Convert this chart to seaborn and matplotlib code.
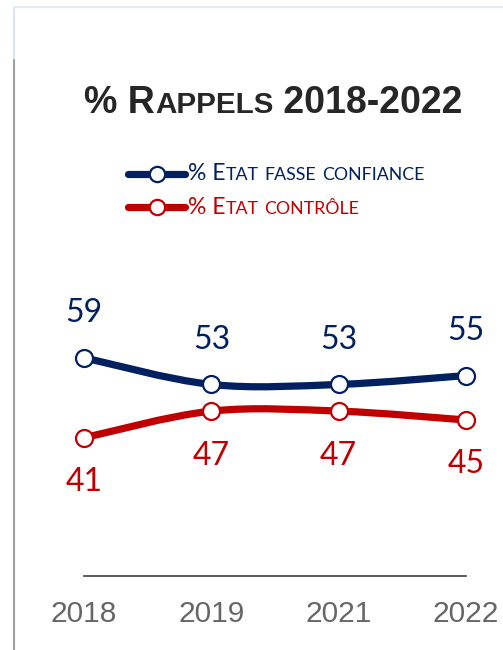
import numpy as np
import pandas as pd
import seaborn as sns
import matplotlib.pyplot as plt
from matplotlib.path import Path
from matplotlib.patches import PathPatch
from matplotlib.lines import Line2D
from matplotlib.offsetbox import TextArea, HPacker, AnchoredOffsetbox

# données
years = ["2018", "2019", "2021", "2022"]
fausse_confiance = [59, 53, 53, 55]
controle = [41, 47, 47, 45]
series_names = ["% Etat fasse confiance", "% Etat contrôle"]
colors = ["#002060", "#C00000"]

W, H = 503, 650
sns.set_theme(style="white")
plt.rcParams["font.family"] = ["Lato", "DejaVu Sans"]

fig = plt.figure(figsize=(W / 100, H / 100), dpi=100)


def px(x, y):
    # pixels (depuis le haut gauche) -> coordonnées figure
    return x / W, 1 - y / H


# axes : 2018 à x=84, 2022 à x=466, ligne de base à y=576
x0, x1 = 84, 466
ax = fig.add_axes([x0 / W, 1 - 576 / H, (x1 - x0) / W, (576 - 300) / H])
ax.set_xlim(0, len(years) - 1)
ax.set_ylim(9.9, 72.0)

df = pd.DataFrame({
    "x": list(range(len(years))) * 2,
    "valeur": fausse_confiance + controle,
    "serie": [series_names[0]] * len(years) + [series_names[1]] * len(years),
})


def smooth_path(xs, ys):
    # courbe lissée façon Excel (Bézier, tangentes de Catmull-Rom)
    pts = np.column_stack([xs, ys]).astype(float)
    n = len(pts)
    verts = [pts[0]]
    codes = [Path.MOVETO]
    for i in range(n - 1):
        p0 = pts[i - 1] if i > 0 else pts[i]
        p1 = pts[i]
        p2 = pts[i + 1]
        p3 = pts[i + 2] if i + 2 < n else pts[i + 1]
        c1 = p1 + (p2 - p0) / 6
        c2 = p2 - (p3 - p1) / 6
        verts += [c1, c2, p2]
        codes += [Path.CURVE4] * 3
    return Path(verts, codes)


for name, col in zip(series_names, colors):
    sub = df[df["serie"] == name]
    patch = PathPatch(smooth_path(sub["x"], sub["valeur"]), facecolor="none",
                      edgecolor=col, lw=5.2, capstyle="round", joinstyle="round",
                      clip_on=False, zorder=2)
    ax.add_patch(patch)

for name, col in zip(series_names, colors):
    sub = df[df["serie"] == name]
    sns.scatterplot(data=sub, x="x", y="valeur", ax=ax, s=150, color="white",
                    edgecolor=col, linewidth=1.6, zorder=3, clip_on=False,
                    legend=False)

# étiquettes de données
for i in range(len(years)):
    ax.annotate(str(fausse_confiance[i]), (i, fausse_confiance[i]),
                xytext=(0, 32), textcoords="offset points", ha="center",
                va="center", fontsize=23, color=colors[0])
    ax.annotate(str(controle[i]), (i, controle[i]),
                xytext=(0, -32), textcoords="offset points", ha="center",
                va="center", fontsize=23, color=colors[1])

sns.despine(ax=ax, left=True)
ax.spines["bottom"].set_color("#404040")
ax.spines["bottom"].set_linewidth(1.2)
ax.set_yticks([])
ax.set_xticks(range(len(years)))
ax.set_xticklabels(years, fontsize=21.5, color="#666666",
                   family=["Liberation Sans Narrow", "Liberation Sans"])
ax.tick_params(axis="x", length=0, pad=17)
ax.set_xlabel("")
ax.set_ylabel("")
ax.patch.set_alpha(0)


def small_caps(text, big, small, **props):
    runs = []
    for ch in text:
        is_small = ch.islower()
        if runs and runs[-1][1] == is_small:
            runs[-1][0] += ch
        else:
            runs.append([ch, is_small])
    boxes = [TextArea(s.upper() if sm else s,
                      textprops=dict(fontsize=small if sm else big, **props))
             for s, sm in runs]
    return HPacker(children=boxes, align="baseline", pad=0, sep=0)


def place(box, x, y, loc):
    anch = AnchoredOffsetbox(loc=loc, child=box, bbox_to_anchor=px(x, y),
                             bbox_transform=fig.transFigure, frameon=False,
                             pad=0, borderpad=0)
    fig.add_artist(anch)


# titre
title = small_caps("% Rappels 2018-2022", 27, 21.3, color="#262626",
                   fontweight="bold", family=["Liberation Sans", "DejaVu Sans"])
place(title, 273.5, 103, "center")

# légende
for k, (name, col) in enumerate(zip(series_names, colors)):
    yy = 174 + 33 * k
    fig.add_artist(Line2D([128 / W, 185 / W], [1 - yy / H] * 2, color=col,
                          lw=5.2, solid_capstyle="round",
                          transform=fig.transFigure))
    fig.add_artist(Line2D([157 / W], [1 - yy / H], marker="o", ms=11,
                          mfc="white", mec=col, mew=1.6, lw=0,
                          transform=fig.transFigure))
    place(small_caps(name, 16.5, 12.8, color=col), 188, yy, "center left")

# bordure
fig.add_artist(Line2D([14 / W, 14 / W], [1 - 8 / H, 1 - 60 / H],
                      color="#DCE4F2", lw=1.5, transform=fig.transFigure))
fig.add_artist(Line2D([14 / W, 14 / W], [1 - 60 / H, 0],
                      color="#A0A0A0", lw=1.5, transform=fig.transFigure))
fig.add_artist(Line2D([14 / W, 1], [1 - 7 / H, 1 - 7 / H],
                      color="#E3EAF6", lw=1.5, transform=fig.transFigure))

fig.savefig("out.png", dpi=100)
